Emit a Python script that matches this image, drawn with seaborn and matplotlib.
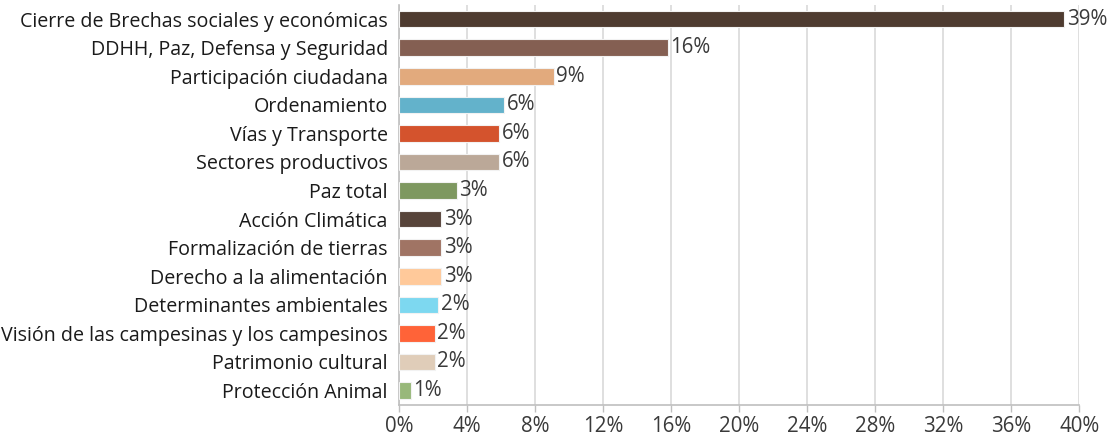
import matplotlib
matplotlib.use("Agg")
import matplotlib.pyplot as plt
import seaborn as sns
import pandas as pd

categories = [
    "Cierre de Brechas sociales y económicas",
    "DDHH, Paz, Defensa y Seguridad",
    "Participación ciudadana",
    "Ordenamiento",
    "Vías y Transporte",
    "Sectores productivos",
    "Paz total",
    "Acción Climática",
    "Formalización de tierras",
    "Derecho a la alimentación",
    "Determinantes ambientales",
    "Visión de las campesinas y los campesinos",
    "Patrimonio cultural",
    "Protección Animal",
]
values = [39.1, 15.8, 9.1, 6.2, 5.9, 5.9, 3.4, 2.5, 2.5, 2.5, 2.3, 2.1, 2.1, 0.7]
value_labels = ["39%", "16%", "9%", "6%", "6%", "6%", "3%", "3%", "3%", "3%", "2%", "2%", "2%", "1%"]
colors = ["#4E3B30", "#845F52", "#E2AA7D", "#63B2CB", "#D4532D", "#BBA898", "#7E9860",
          "#57443A", "#A07464", "#FFC99A", "#7DD8F0", "#FF6338", "#E0CDB9", "#98B87A"]
x_ticks = [0, 4, 8, 12, 16, 20, 24, 28, 32, 36, 40]

sns.set_theme(style="white")
plt.rcParams['font.family'] = ['Open Sans', 'DejaVu Sans']

df = pd.DataFrame({"cat": categories, "val": values})
fig = plt.figure(figsize=(11.08, 4.41), dpi=100)
ax = fig.add_axes([0.360, 0.082, 0.614, 0.907])

sns.barplot(data=df, y="cat", x="val", hue="cat", palette=colors, legend=False,
            orient="h", width=0.58, saturation=1, ax=ax, edgecolor="#F2F2F2",
            linewidth=0.8, zorder=3)

for cont, lab in zip(ax.containers, value_labels):
    ax.bar_label(cont, labels=[lab], padding=2, fontsize=14.8, color="#3A3A3A")

ax.set_xlim(0, 40)
ax.set_xticks(x_ticks)
ax.set_xticklabels([f"{t}%" for t in x_ticks], fontsize=14.8, color="#3A3A3A")
ax.tick_params(axis="y", labelsize=14.1, labelcolor="#1A1A1A", length=0, pad=8)
ax.tick_params(axis="x", length=5, color="#BFBFBF", width=1, direction="out", pad=3, bottom=True)
ax.set_xlabel("")
ax.set_ylabel("")
ax.grid(axis="x", color="#D9D9D9", linewidth=1.2, zorder=0)
ax.set_axisbelow(True)
for s in ["top", "right"]:
    ax.spines[s].set_visible(False)
ax.spines["left"].set_color("#BFBFBF")
ax.spines["bottom"].set_color("#BFBFBF")
ax.spines["left"].set_linewidth(1.2)
ax.spines["bottom"].set_linewidth(1.2)

fig.savefig("out.png", dpi=100)
